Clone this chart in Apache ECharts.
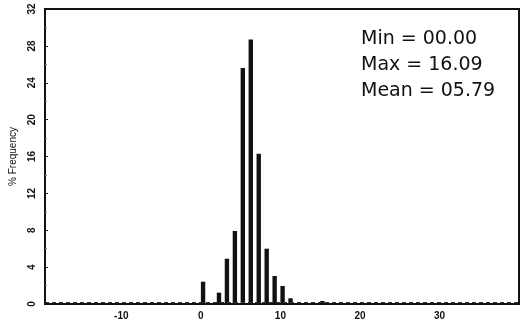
<!DOCTYPE html>
<html>
<head>
<meta charset="utf-8">
<script src="https://cdn.jsdelivr.net/npm/echarts@6/dist/echarts.min.js"></script>
<style>html,body{margin:0;padding:0;background:#fff}#c{width:525px;height:328px}</style>
</head>
<body>
<div id="c"></div>
<script>
// Bin start values (x) and % frequency values
var binStarts = [0, 1, 2, 3, 4, 5, 6, 7, 8, 9, 10, 11, 12, 13, 14, 15, 16];
var frequency = [2.42, 0.1, 1.23, 4.91, 7.92, 25.6, 28.7, 16.3, 6.0, 3.04, 1.95, 0.62, 0.1, 0.1, 0.1, 0.33, 0.1];
var xTickLabels = [-10, 0, 10, 20, 30];
var yTickLabels = [0, 4, 8, 12, 16, 20, 24, 28, 32];
var statLines = ['Min = 00.00', 'Max = 16.09', 'Mean = 05.79'];
var baselineLevel = 0.18;
var barFraction = 0.55;

var chart = echarts.init(document.getElementById('c'), null, {renderer: 'canvas'});
var data = binStarts.map(function (x, i) { return [x, frequency[i]]; });

chart.setOption({
  backgroundColor: '#fff',
  animation: false,
  grid: {left: 45, top: 9, right: 6, bottom: 24, show: true, borderColor: '#111', borderWidth: 2, backgroundColor: 'transparent'},
  xAxis: {
    type: 'value', min: -19.6, max: 40,
    axisLine: {show: false, onZero: false},
    splitLine: {show: false},
    axisTick: {show: false},
    axisLabel: {customValues: xTickLabels, color: '#111', fontSize: 10, fontWeight: 'bold', fontFamily: 'Liberation Sans', margin: 7}
  },
  yAxis: {
    type: 'value', min: 0, max: 32, interval: 4,
    name: '% Frequency', nameLocation: 'middle', nameGap: 27, nameRotate: 90,
    nameTextStyle: {color: '#111', fontSize: 10, fontFamily: 'Liberation Sans'},
    axisLine: {show: false, onZero: false},
    splitLine: {show: false},
    axisTick: {show: true, inside: true, length: 3, lineStyle: {color: '#111'}},
    minorTick: {show: true, splitNumber: 2, length: 2, lineStyle: {color: '#777'}},
    axisLabel: {
      customValues: yTickLabels, rotate: 90, color: '#111', fontSize: 10, fontWeight: 'bold', fontFamily: 'Liberation Sans', margin: 8,
      align: 'center', verticalAlign: 'bottom'
    }
  },
  series: [{
    type: 'custom',
    data: data,
    renderItem: function (params, api) {
      var x = api.value(0), y = api.value(1);
      var p0 = api.coord([x, y]);
      var p1 = api.coord([x + barFraction, 0]);
      return {type: 'rect', shape: {x: p0[0], y: p0[1], width: p1[0] - p0[0], height: p1[1] - p0[1]}, style: {fill: '#111'}};
    },
    markLine: {
      symbol: 'none', silent: true, label: {show: false},
      lineStyle: {color: '#333', type: [4, 3], width: 1},
      data: [{yAxis: baselineLevel}]
    }
  }],
  graphic: statLines.map(function (t, i) {
    return {type: 'text', left: 361, top: 30 + i * 26, style: {text: t, fill: '#111', font: '19px "DejaVu Sans"'}};
  })
});
</script>
</body>
</html>
